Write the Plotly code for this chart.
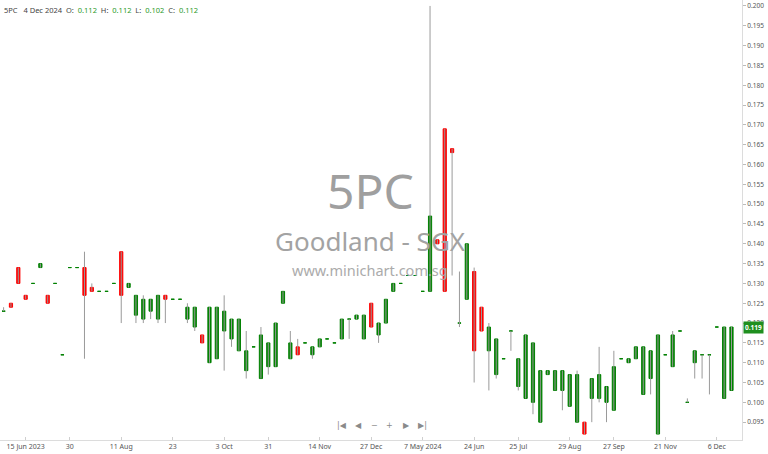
import plotly.graph_objects as go

# ---- data ----
opens = [0.123, 0.125, 0.134, 0.127, 0.130, 0.134, 0.127, 0.130, 0.112, 0.134,
         0.134, 0.134, 0.129, 0.128, 0.128, 0.130, 0.138, 0.129, 0.122, 0.121,
         0.123, 0.121, 0.127, 0.126, 0.126, 0.121, 0.119, 0.117, 0.110, 0.111,
         0.118, 0.116, 0.113, 0.108, 0.114, 0.106, 0.109, 0.109, 0.125, 0.111,
         0.114, 0.115, 0.112, 0.114, 0.116, 0.115, 0.116, 0.121, 0.121, 0.116,
         0.125, 0.117, 0.120, 0.128, 0.130, 0.132, 0.132, 0.128, 0.128, 0.141,
         0.169, 0.164, 0.120, 0.126, 0.133, 0.124, 0.113, 0.107, 0.111, 0.118,
         0.104, 0.101, 0.100, 0.095, 0.107, 0.103, 0.103, 0.099, 0.095, 0.095,
         0.101, 0.101, 0.100, 0.098, 0.111, 0.110, 0.111, 0.102, 0.106, 0.092,
         0.112, 0.109, 0.118, 0.100, 0.110, 0.112, 0.112, 0.119, 0.101, 0.103]
highs = [0.124, 0.125, 0.134, 0.127, 0.130, 0.135, 0.127, 0.130, 0.112, 0.134,
         0.134, 0.138, 0.130, 0.128, 0.128, 0.130, 0.138, 0.130, 0.127, 0.127,
         0.126, 0.127, 0.127, 0.126, 0.126, 0.125, 0.124, 0.117, 0.124, 0.124,
         0.127, 0.121, 0.121, 0.118, 0.114, 0.119, 0.115, 0.120, 0.128, 0.118,
         0.116, 0.115, 0.114, 0.116, 0.116, 0.115, 0.121, 0.121, 0.122, 0.122,
         0.125, 0.120, 0.126, 0.130, 0.130, 0.132, 0.132, 0.128, 0.200, 0.141,
         0.169, 0.164, 0.133, 0.140, 0.134, 0.124, 0.120, 0.116, 0.111, 0.118,
         0.111, 0.117, 0.115, 0.108, 0.108, 0.108, 0.108, 0.107, 0.108, 0.095,
         0.106, 0.114, 0.104, 0.113, 0.111, 0.111, 0.114, 0.114, 0.113, 0.117,
         0.112, 0.118, 0.118, 0.101, 0.113, 0.112, 0.112, 0.119, 0.119, 0.119]
lows = [0.123, 0.124, 0.130, 0.126, 0.130, 0.134, 0.125, 0.130, 0.112, 0.134,
        0.134, 0.111, 0.128, 0.128, 0.128, 0.130, 0.120, 0.129, 0.120, 0.120,
        0.121, 0.120, 0.120, 0.126, 0.126, 0.120, 0.118, 0.115, 0.110, 0.111,
        0.108, 0.114, 0.113, 0.106, 0.114, 0.106, 0.107, 0.109, 0.125, 0.111,
        0.112, 0.115, 0.111, 0.114, 0.116, 0.115, 0.116, 0.116, 0.121, 0.116,
        0.119, 0.115, 0.120, 0.128, 0.130, 0.132, 0.132, 0.128, 0.128, 0.140,
        0.128, 0.132, 0.119, 0.126, 0.105, 0.118, 0.103, 0.106, 0.111, 0.113,
        0.103, 0.101, 0.097, 0.095, 0.107, 0.103, 0.098, 0.099, 0.095, 0.092,
        0.095, 0.100, 0.095, 0.098, 0.111, 0.110, 0.111, 0.102, 0.102, 0.092,
        0.112, 0.109, 0.118, 0.100, 0.106, 0.106, 0.102, 0.119, 0.101, 0.103]
closes = [0.123, 0.124, 0.130, 0.126, 0.130, 0.135, 0.125, 0.130, 0.112, 0.134,
          0.134, 0.127, 0.128, 0.128, 0.128, 0.130, 0.127, 0.130, 0.127, 0.126,
          0.126, 0.127, 0.126, 0.126, 0.126, 0.124, 0.124, 0.115, 0.124, 0.124,
          0.123, 0.121, 0.121, 0.113, 0.114, 0.117, 0.115, 0.120, 0.128, 0.115,
          0.112, 0.115, 0.114, 0.116, 0.116, 0.115, 0.121, 0.121, 0.122, 0.122,
          0.119, 0.120, 0.126, 0.130, 0.130, 0.132, 0.132, 0.128, 0.147, 0.140,
          0.128, 0.163, 0.120, 0.140, 0.113, 0.118, 0.119, 0.116, 0.111, 0.118,
          0.111, 0.117, 0.115, 0.108, 0.108, 0.108, 0.108, 0.107, 0.107, 0.092,
          0.106, 0.107, 0.104, 0.109, 0.111, 0.111, 0.114, 0.114, 0.113, 0.117,
          0.112, 0.117, 0.118, 0.100, 0.113, 0.112, 0.112, 0.119, 0.119, 0.119]

tick_index = [3, 9, 16, 23, 30, 36, 43, 50, 57, 64, 70, 77, 83, 90, 97]
tick_labels = ["15 Jun 2023", "30", "11 Aug", "23", "3 Oct", "31", "14 Nov", "27 Dec",
               "7 May 2024", "24 Jun", "25 Jul", "29 Aug", "27 Sep", "21 Nov", "6 Dec"]

symbol = "5PC"
company = "Goodland - SGX"
site = "www.minichart.com.sg"
hdr_date = "4 Dec 2024"
hdr_o, hdr_h, hdr_l, hdr_c = "0.112", "0.112", "0.102", "0.112"
last_price = 0.119

GREEN = "#008000"
RED = "#ff0000"
WICK = "#9a9a9a"

n = len(opens)
idx = list(range(n))

# wicks
wx, wy = [], []
for i in idx:
    wx += [i, i, None]
    wy += [lows[i], highs[i], None]

up = [i for i in idx if closes[i] >= opens[i]]
dn = [i for i in idx if closes[i] < opens[i]]


def body_trace(sel, color):
    o = [opens[i] for i in sel]
    c = [closes[i] for i in sel]
    return go.Candlestick(
        x=sel, open=o, close=c,
        high=[max(a, b) for a, b in zip(o, c)],
        low=[min(a, b) for a, b in zip(o, c)],
        increasing=dict(line=dict(color=color, width=1), fillcolor=color),
        decreasing=dict(line=dict(color=color, width=1), fillcolor=color),
        whiskerwidth=0, hoverinfo="skip", showlegend=False,
    )


fig = go.Figure()
fig.add_trace(go.Scatter(x=wx, y=wy, mode="lines", line=dict(color=WICK, width=1),
                         hoverinfo="skip", showlegend=False))
fig.add_trace(body_trace(up, GREEN))
fig.add_trace(body_trace(dn, RED))

FONT = "Noto Sans, Open Sans, DejaVu Sans, sans-serif"

fig.update_layout(
    width=768, height=454,
    margin=dict(l=0, r=26, t=0, b=14, autoexpand=False),
    paper_bgcolor="white", plot_bgcolor="white",
    boxgap=0.38,
    showlegend=False,
    font=dict(family=FONT, size=8, color="#555"),
    xaxis=dict(
        range=[-0.49, 100.43], rangeslider=dict(visible=False),
        showgrid=False, zeroline=False, automargin=False,
        tickmode="array", tickvals=tick_index, ticktext=tick_labels,
        ticks="inside", ticklen=3, tickcolor="#cfcfcf",
        showline=True, linecolor="#dcdcdc", linewidth=1,
        tickfont=dict(size=7, color="#555"),
    ),
    yaxis=dict(
        side="right", range=[0.0905, 0.2015], automargin=False,
        tickmode="linear", tick0=0.095, dtick=0.005, tickformat=".3f",
        showgrid=False, zeroline=False,
        ticks="outside", ticklen=3, tickcolor="#bbbbbb",
        showline=True, linecolor="#dcdcdc", linewidth=1,
        tickfont=dict(size=6.5, color="#555"),
    ),
)

# watermark
fig.add_annotation(text=symbol, xref="paper", yref="paper", x=0.4987, y=0.568,
                   showarrow=False, font=dict(size=48, color="#9f9f9f", family=FONT))
fig.add_annotation(text=company, xref="paper", yref="paper", x=0.4987, y=0.452,
                   showarrow=False, font=dict(size=26, color="#a3a3a3", family=FONT))
fig.add_annotation(text=site, xref="paper", yref="paper", x=0.4987, y=0.386,
                   showarrow=False, font=dict(size=14.5, color="#ababab", family=FONT))

# header
g = "#2a9a2a"
hdr = (f"{symbol}&nbsp;&nbsp;&nbsp;{hdr_date}&nbsp;&nbsp;O:&nbsp;&nbsp;<span style='color:{g}'>{hdr_o}</span>"
       f"&nbsp;&nbsp;H:&nbsp;&nbsp;<span style='color:{g}'>{hdr_h}</span>"
       f"&nbsp;&nbsp;L:&nbsp;&nbsp;<span style='color:{g}'>{hdr_l}</span>"
       f"&nbsp;&nbsp;C:&nbsp;&nbsp;<span style='color:{g}'>{hdr_c}</span>")
fig.add_annotation(text=hdr, xref="paper", yref="paper", x=0.003, y=0.978,
                   xanchor="left", yanchor="middle", showarrow=False,
                   font=dict(size=7.5, color="#444", family=FONT))

# navigation buttons
nav = ["|◀", "◀", "−", "+", "▶", "▶|"]
nav_x = [342, 358, 374, 390, 406, 422]
for t, px in zip(nav, nav_x):
    fig.add_annotation(text=t, xref="paper", yref="paper", x=px / 742, y=0.018,
                       showarrow=False, font=dict(size=8, color="#8a8a8a", family="DejaVu Sans"))

# last price tag
fig.add_annotation(text=f"<b>{last_price:.3f}</b>", xref="paper", yref="y",
                   x=1, y=last_price, xanchor="left", xshift=1, showarrow=False,
                   bgcolor="#1f8f1f", borderpad=1,
                   font=dict(size=6.5, color="white", family=FONT))

fig.write_html("out.html", config={"displayModeBar": False},
               post_script="document.body.style.margin='0';")
